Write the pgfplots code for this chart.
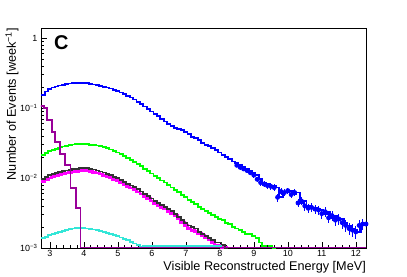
\documentclass[border=0pt]{standalone}
\usepackage{fontspec}
\setmainfont{Liberation Sans}
\usepackage{pgfplots}
\usepackage{pgfplotstable}
\pgfplotsset{compat=1.18}
\definecolor{rblue}{RGB}{0,0,255}
\definecolor{rgreen}{RGB}{0,255,0}
\definecolor{rgray}{RGB}{51,51,51}
\definecolor{rmag}{RGB}{255,0,255}
\definecolor{rpurp}{RGB}{153,0,153}
\definecolor{rcyan}{RGB}{51,230,215}

\pgfplotstableread{
x y
2.75 0.155
2.85 0.172
2.95 0.188
3.05 0.196
3.15 0.203
3.25 0.209
3.35 0.214
3.45 0.219
3.55 0.224
3.65 0.227
3.75 0.228
3.85 0.228
3.95 0.227
4.05 0.225
4.15 0.221
4.25 0.217
4.35 0.212
4.45 0.207
4.55 0.202
4.65 0.196
4.75 0.190
4.85 0.183
4.95 0.175
5.05 0.167
5.15 0.158
5.25 0.150
5.35 0.141
5.45 0.132
5.55 0.122
5.65 0.113
5.75 0.105
5.85 0.097
5.95 0.089
6.05 0.082
6.15 0.076
6.25 0.069
6.35 0.064
6.45 0.059
6.55 0.055
6.65 0.052
6.75 0.050
6.85 0.048
6.95 0.045
7.05 0.042
7.15 0.039
7.25 0.037
7.35 0.035
7.45 0.032
7.55 0.030
7.65 0.0285
7.75 0.027
7.85 0.025
7.95 0.0232
8.05 0.0215
8.15 0.020
8.25 0.0185
8.35 0.0172
8.45 0.0162
8.55 0.0152
8.65 0.0142
8.75 0.0135
8.85 0.0128
8.95 0.0119
9.05 0.0110
9.15 0.0096
9.25 0.0086
9.35 0.0082
9.45 0.0078
9.55 0.0076
9.65 0.0073
9.75 0.0053
9.85 0.0064
9.95 0.0062
10.05 0.0066
10.15 0.0058
10.25 0.0062
10.35 0.0044
10.45 0.0047
10.55 0.0040
10.65 0.0037
10.75 0.0038
10.85 0.0036
10.95 0.0035
11.05 0.0031
11.15 0.0033
11.25 0.0027
11.35 0.0029
11.45 0.0025
11.55 0.0026
11.65 0.0023
11.75 0.0021
11.85 0.0019
11.95 0.0018
12.05 0.0017
12.15 0.0021
12.25 0.0022
12.35 0.0022
}\blue

\pgfplotstableread{
x y e
8.50 0.0152 0.0010
8.60 0.0142 0.0010
8.70 0.0135 0.0010
8.80 0.0128 0.0010
8.90 0.0119 0.0010
9.00 0.0110 0.0009
9.10 0.0096 0.0009
9.20 0.0086 0.0008
9.30 0.0082 0.0008
9.40 0.0078 0.0008
9.50 0.0076 0.0008
9.60 0.0073 0.0008
9.70 0.0053 0.0007
9.80 0.0064 0.0007
9.90 0.0062 0.0007
10.00 0.0066 0.0007
10.10 0.0058 0.0007
10.20 0.0062 0.0007
10.30 0.0044 0.0006
10.40 0.0047 0.0006
10.50 0.0040 0.0006
10.60 0.0037 0.00055
10.70 0.0038 0.00055
10.80 0.0036 0.00055
10.90 0.0035 0.00052
11.00 0.0031 0.0005
11.10 0.0033 0.0005
11.20 0.0027 0.00046
11.30 0.0029 0.00048
11.40 0.0025 0.00044
11.50 0.0026 0.00046
11.60 0.0023 0.00042
11.70 0.0021 0.0004
11.80 0.0019 0.00038
11.90 0.0018 0.00038
12.00 0.0017 0.00036
12.10 0.0021 0.0004
12.20 0.0022 0.00042
12.30 0.0022 0.00042
}\blueerr

\pgfplotstableread{
x y
2.75 0.0213
2.85 0.0225
2.95 0.0240
3.05 0.0252
3.15 0.0263
3.25 0.0273
3.35 0.0282
3.45 0.0290
3.55 0.0296
3.65 0.0301
3.75 0.0304
3.85 0.0305
3.95 0.0305
4.05 0.0303
4.15 0.0300
4.25 0.0296
4.35 0.0292
4.45 0.0285
4.55 0.0276
4.65 0.0266
4.75 0.0255
4.85 0.0243
4.95 0.0231
5.05 0.0219
5.15 0.0207
5.25 0.0195
5.35 0.0182
5.45 0.0170
5.55 0.0158
5.65 0.0147
5.75 0.0136
5.85 0.0126
5.95 0.0116
6.05 0.0107
6.15 0.0099
6.25 0.0092
6.35 0.0086
6.45 0.0080
6.55 0.0073
6.65 0.0067
6.75 0.0063
6.85 0.0057
6.95 0.0053
7.05 0.0049
7.15 0.0045
7.25 0.0042
7.35 0.0039
7.45 0.0036
7.55 0.0034
7.65 0.0032
7.75 0.0030
7.85 0.0028
7.95 0.0026
8.05 0.0025
8.15 0.0023
8.25 0.0022
8.35 0.0020
8.45 0.0019
8.55 0.0018
8.65 0.0017
8.75 0.0016
8.85 0.0016
8.95 0.0015
9.05 0.0014
9.15 0.0012
9.25 0.00108
9.35 0.00102
9.45 0.00106
9.55 0.00101
9.65 0.00101
}\green

\pgfplotstableread{
x y
2.75 0.0097
2.85 0.0103
2.95 0.0109
3.05 0.0114
3.15 0.0118
3.25 0.0122
3.35 0.0125
3.45 0.0128
3.55 0.0131
3.65 0.0134
3.75 0.0136
3.85 0.0138
3.95 0.0139
4.05 0.0138
4.15 0.0135
4.25 0.0132
4.35 0.0128
4.45 0.0124
4.55 0.0120
4.65 0.0115
4.75 0.0110
4.85 0.0104
4.95 0.0099
5.05 0.0094
5.15 0.0088
5.25 0.0083
5.35 0.0078
5.45 0.0074
5.55 0.0069
5.65 0.0064
5.75 0.0059
5.85 0.0055
5.95 0.0051
6.05 0.0047
6.15 0.0044
6.25 0.0041
6.35 0.0039
6.45 0.0036
6.55 0.0034
6.65 0.0031
6.75 0.0028
6.85 0.0025
6.95 0.0023
7.05 0.0021
7.15 0.0020
7.25 0.0019
7.35 0.0017
7.45 0.0016
7.55 0.0015
7.65 0.0014
7.75 0.0013
7.85 0.0012
7.95 0.0012
8.05 0.0011
8.15 0.00101
8.25 0.00101
}\black

\pgfplotstableread{
x y
2.75 0.0089
2.85 0.0095
2.95 0.0100
3.05 0.0105
3.15 0.0109
3.25 0.0112
3.35 0.0115
3.45 0.0118
3.55 0.0121
3.65 0.0123
3.75 0.0125
3.85 0.0127
3.95 0.0128
4.05 0.0127
4.15 0.0124
4.25 0.0121
4.35 0.0118
4.45 0.0114
4.55 0.0110
4.65 0.0106
4.75 0.0101
4.85 0.0096
4.95 0.0091
5.05 0.0086
5.15 0.0081
5.25 0.0076
5.35 0.0072
5.45 0.0068
5.55 0.0063
5.65 0.0059
5.75 0.0054
5.85 0.0051
5.95 0.0047
6.05 0.0043
6.15 0.0040
6.25 0.0038
6.35 0.0036
6.45 0.0033
6.55 0.0031
6.65 0.0029
6.75 0.0026
6.85 0.0023
6.95 0.0021
7.05 0.0019
7.15 0.0018
7.25 0.0017
7.35 0.0016
7.45 0.0015
7.55 0.0014
7.65 0.0013
7.75 0.0012
7.85 0.0011
7.95 0.0011
8.05 0.00102
8.15 0.00101
8.25 0.00101
}\magenta

\pgfplotstableread{
x y
2.75 0.00139
2.85 0.00145
2.95 0.00152
3.05 0.00158
3.15 0.00164
3.25 0.00169
3.35 0.00175
3.45 0.00181
3.55 0.00186
3.65 0.00190
3.75 0.00193
3.85 0.00193
3.95 0.00192
4.05 0.00190
4.15 0.00187
4.25 0.00184
4.35 0.00179
4.45 0.00175
4.55 0.00170
4.65 0.00165
4.75 0.00159
4.85 0.00153
4.95 0.00147
5.05 0.00141
5.15 0.00135
5.25 0.00129
5.35 0.00122
5.45 0.00116
5.55 0.00109
5.65 0.00103
5.75 0.00106
8.05 0.00106
}\cyan

\pgfplotstableread{
x y
2.70 0.107
2.82 0.101
2.92 0.067
3.06 0.045
3.15 0.033
3.30 0.022
3.44 0.0153
3.61 0.0072
3.76 0.0037
3.90 0.00102
12.40 0.00102
}\purple

\begin{document}
\begin{tikzpicture}
\useasboundingbox (0,0) rectangle (407bp,277bp);
\begin{axis}[
  at={(41bp,29bp)}, anchor=south west,
  scale only axis, width=325bp, height=220bp,
  ymode=log, xmin=2.74, xmax=12.3, ymin=1e-3, ymax=1.39,
  axis line style={black, line width=0.6pt},
  tick align=inside, xtick pos=left, ytick pos=left,
  xtick={3,4,5,6,7,8,9,10,11,12}, minor x tick num=4,
  ytick={0.001,0.01,0.1,1},
  yticklabels={10\textsuperscript{−3},10\textsuperscript{−2},10\textsuperscript{−1},1},
  minor ytick={0.002,0.003,0.004,0.005,0.006,0.007,0.008,0.009,0.02,0.03,0.04,0.05,0.06,0.07,0.08,0.09,0.2,0.3,0.4,0.5,0.6,0.7,0.8,0.9},
  major tick length=6bp, minor tick length=3bp,
  tick style={black, line width=0.5pt},
  every tick label/.append style={font=\fontsize{9}{9}\selectfont},
  /pgf/number format/assume math mode=true,
  xticklabel style={yshift=1bp},
  xlabel={Visible Reconstructed Energy [MeV]},
  ylabel={Number of Events [week\textsuperscript{−1}]},
  xlabel style={at={(axis description cs:1,-0.06)}, anchor=north east, inner sep=0pt, font=\fontsize{12.7}{12.7}\selectfont},
  ylabel style={at={(axis description cs:-0.089,1)}, anchor=east, rotate=0, inner sep=0pt, font=\fontsize{12.7}{12.7}\selectfont},
  clip=true,
]
\addplot[rblue, line width=1.8pt, const plot mark left] table[x=x,y=y]{\blue};
\addplot[rblue, line width=0.9pt, only marks, mark=none, forget plot,
  error bars/.cd, y dir=both, y explicit, error bar style={line width=0.9pt, solid}, error mark=none]
  table[x=x,y=y,y error=e]{\blueerr};
\addplot[rgreen, line width=1.8pt, const plot mark left] table[x=x,y=y]{\green};
\addplot[rmag, line width=2.8pt, const plot mark left] table[x=x,y=y]{\magenta};
\addplot[rgray, line width=1.8pt, const plot mark left] table[x=x,y=y]{\black};
\addplot[rcyan, line width=1.8pt, const plot mark left] table[x=x,y=y]{\cyan};
\addplot[rpurp, line width=1.8pt, const plot mark left] table[x=x,y=y]{\purple};
\node[font=\bfseries\fontsize{20}{20}\selectfont, anchor=west, inner sep=0pt] at (rel axis cs:0.04,0.935) {C};
\end{axis}
\end{tikzpicture}
\end{document}
